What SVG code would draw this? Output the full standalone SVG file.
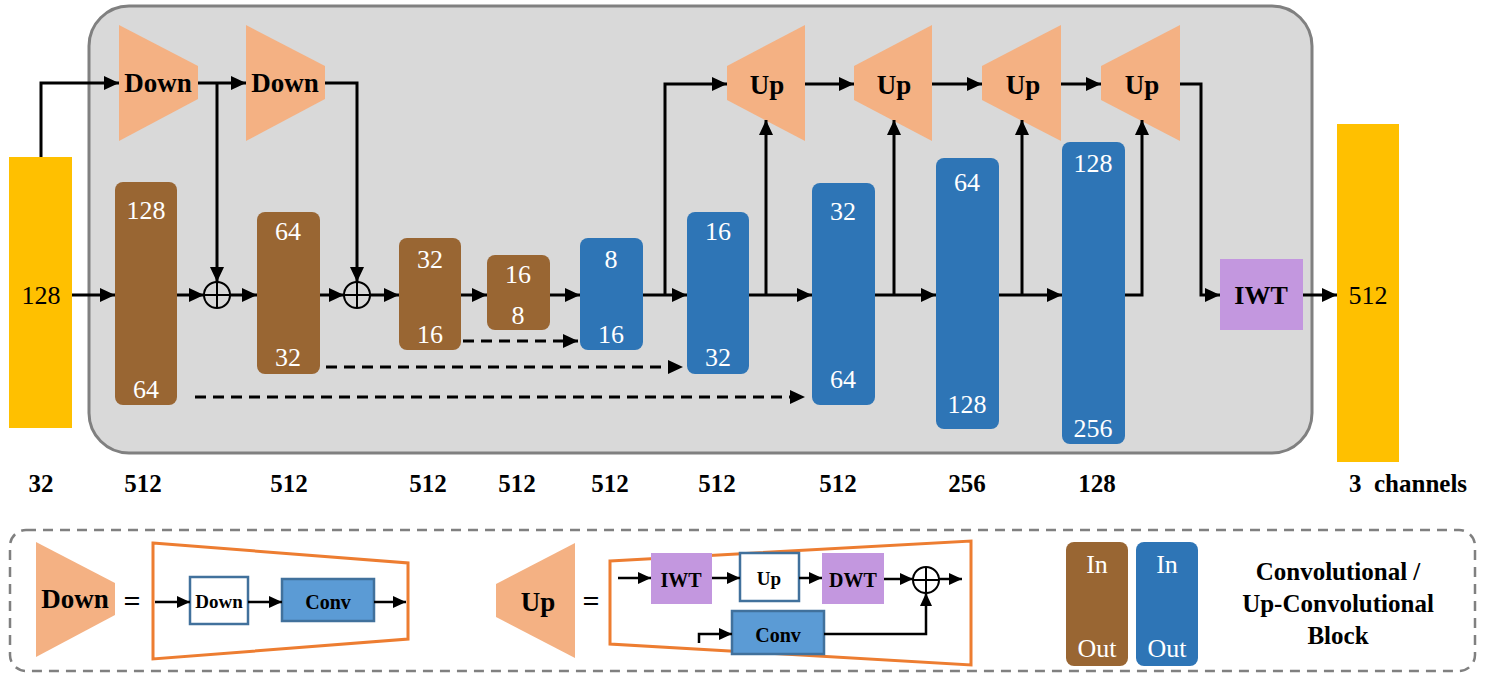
<svg xmlns="http://www.w3.org/2000/svg" width="1485" height="678" viewBox="0 0 1485 678" font-family="Liberation Serif, Times New Roman, DejaVu Serif, serif">
<defs>
<marker id="ah" markerUnits="userSpaceOnUse" markerWidth="15" markerHeight="14" refX="15" refY="7" orient="auto"><path d="M0,0 L15,7 L0,14 z" fill="#000"/></marker>
<marker id="ahs" markerUnits="userSpaceOnUse" markerWidth="13" markerHeight="12" refX="13" refY="6" orient="auto"><path d="M0,0 L13,6 L0,12 z" fill="#000"/></marker>
<style>
.w{fill:#fff;font-size:26px;text-anchor:middle}
.b{font-weight:bold;text-anchor:middle;fill:#000}
.brown{fill:#996633}
.blue{fill:#2e75b6}
.tri{fill:#f4b183}
.ln{stroke:#000;stroke-width:3;fill:none}
.lns{stroke:#000;stroke-width:2.5;fill:none}
.dash{stroke:#000;stroke-width:3;fill:none;stroke-dasharray:11 7}
.lav{fill:#c397df}
</style>
</defs>
<rect x="89" y="6" width="1223" height="447" rx="40" fill="#d9d9d9" stroke="#808080" stroke-width="3"/>

<g id="input"><rect x="9" y="157" width="63" height="271" fill="#ffc000"/><text x="41" y="304" font-size="26" text-anchor="middle">128</text></g>
<g id="output"><rect x="1337" y="124" width="62" height="338" fill="#ffc000"/><text x="1368" y="304" font-size="26" text-anchor="middle">512</text></g>

<g id="down1"><polygon class="tri" points="119,25 198,66 198,99 119,141"/><text class="b" x="158" y="92" font-size="27">Down</text></g>
<g id="down2"><polygon class="tri" points="246,25 325,66 325,99 246,141"/><text class="b" x="285" y="92" font-size="27">Down</text></g>
<g id="up1"><polygon class="tri" points="727,66 805,25 805,141 727,100"/><text class="b" x="767" y="94" font-size="27">Up</text></g>
<g id="up2"><polygon class="tri" points="854,66 932,25 932,141 854,100"/><text class="b" x="894" y="94" font-size="27">Up</text></g>
<g id="up3"><polygon class="tri" points="982,66 1061,25 1061,141 982,100"/><text class="b" x="1023" y="94" font-size="27">Up</text></g>
<g id="up4"><polygon class="tri" points="1101,66 1180,25 1180,141 1101,100"/><text class="b" x="1142" y="94" font-size="27">Up</text></g>

<g id="b1"><rect class="brown" x="115" y="182" width="62" height="223" rx="8"/><text class="w" x="146" y="219">128</text><text class="w" x="146" y="398">64</text></g>
<g id="b2"><rect class="brown" x="257" y="212" width="63" height="162" rx="8"/><text class="w" x="288" y="240">64</text><text class="w" x="288" y="366">32</text></g>
<g id="b3"><rect class="brown" x="399" y="238" width="62" height="112" rx="8"/><text class="w" x="430" y="268">32</text><text class="w" x="430" y="343">16</text></g>
<g id="b4"><rect class="brown" x="487" y="255" width="63" height="75" rx="8"/><text class="w" x="518" y="283">16</text><text class="w" x="518" y="324">8</text></g>
<g id="u1"><rect class="blue" x="580" y="238" width="63" height="112" rx="8"/><text class="w" x="611" y="268">8</text><text class="w" x="611" y="343">16</text></g>
<g id="u2"><rect class="blue" x="687" y="212" width="62" height="162" rx="8"/><text class="w" x="718" y="240">16</text><text class="w" x="718" y="366">32</text></g>
<g id="u3"><rect class="blue" x="812" y="183" width="63" height="222" rx="8"/><text class="w" x="843" y="220">32</text><text class="w" x="843" y="388">64</text></g>
<g id="u4"><rect class="blue" x="936" y="158" width="63" height="271" rx="8"/><text class="w" x="967" y="191">64</text><text class="w" x="967" y="413">128</text></g>
<g id="u5"><rect class="blue" x="1062" y="142" width="63" height="302" rx="8"/><text class="w" x="1093" y="172">128</text><text class="w" x="1093" y="437">256</text></g>

<g id="iwt"><rect class="lav" x="1220" y="259" width="83" height="71"/><text class="b" x="1261" y="304" font-size="26">IWT</text></g>

<g id="plus1"><circle cx="217" cy="295" r="13" fill="none" stroke="#000" stroke-width="2"/><path d="M204,295 H230 M217,282 V308" stroke="#000" stroke-width="2"/></g>
<g id="plus2"><circle cx="357" cy="295" r="13" fill="none" stroke="#000" stroke-width="2"/><path d="M344,295 H370 M357,282 V308" stroke="#000" stroke-width="2"/></g>

<g id="connectors">
<path class="ln" d="M41,157 V83 H119" marker-end="url(#ah)"/>
<path class="ln" d="M198,83 H246" marker-end="url(#ah)"/>
<path class="ln" d="M217,83 V282" marker-end="url(#ah)"/>
<path class="ln" d="M325,83 H357 V282" marker-end="url(#ah)"/>
<path class="ln" d="M72,295 H115" marker-end="url(#ah)"/>
<path class="ln" d="M177,295 H204" marker-end="url(#ah)"/>
<path class="ln" d="M230,295 H257" marker-end="url(#ah)"/>
<path class="ln" d="M320,295 H344" marker-end="url(#ah)"/>
<path class="ln" d="M370,295 H399" marker-end="url(#ah)"/>
<path class="ln" d="M461,295 H487" marker-end="url(#ah)"/>
<path class="ln" d="M550,295 H580" marker-end="url(#ah)"/>
<path class="ln" d="M643,295 H687" marker-end="url(#ah)"/>
<path class="ln" d="M665,295 V84 H727" marker-end="url(#ah)"/>
<path class="ln" d="M749,295 H812" marker-end="url(#ah)"/>
<path class="ln" d="M766,295 V120" marker-end="url(#ah)"/>
<path class="ln" d="M875,295 H936" marker-end="url(#ah)"/>
<path class="ln" d="M894,295 V120" marker-end="url(#ah)"/>
<path class="ln" d="M999,295 H1062" marker-end="url(#ah)"/>
<path class="ln" d="M1022,295 V120" marker-end="url(#ah)"/>
<path class="ln" d="M1125,295 H1142 V120" marker-end="url(#ah)"/>
<path class="ln" d="M805,84 H854" marker-end="url(#ah)"/>
<path class="ln" d="M932,84 H982" marker-end="url(#ah)"/>
<path class="ln" d="M1061,84 H1101" marker-end="url(#ah)"/>
<path class="ln" d="M1180,84 H1201 V295 H1220" marker-end="url(#ah)"/>
<path class="ln" d="M1303,295 H1337" marker-end="url(#ah)"/>
<path class="dash" d="M463,341 H578" marker-end="url(#ah)"/>
<path class="dash" d="M326,367 H683" marker-end="url(#ah)"/>
<path class="dash" d="M195,397 H805" marker-end="url(#ah)"/>
</g>

<g id="bottom-labels" font-size="25">
<text class="b" x="41" y="492">32</text>
<text class="b" x="143" y="492">512</text>
<text class="b" x="289" y="492">512</text>
<text class="b" x="428" y="492">512</text>
<text class="b" x="517" y="492">512</text>
<text class="b" x="610" y="492">512</text>
<text class="b" x="717" y="492">512</text>
<text class="b" x="838" y="492">512</text>
<text class="b" x="967" y="492">256</text>
<text class="b" x="1097" y="492">128</text>
<text class="b" x="1349" y="492" style="text-anchor:start" xml:space="preserve">3  channels</text>
</g>

<g id="legend">
<rect x="10" y="530" width="1465" height="141" rx="16" fill="none" stroke="#808080" stroke-width="2.5" stroke-dasharray="10 7"/>
<g id="leg-down">
<polygon class="tri" points="36,542 115,583 115,615 36,657"/>
<text class="b" x="75" y="608" font-size="27">Down</text>
<text class="b" x="132" y="611" font-size="30">=</text>
<polygon points="153,543 408,563 408,639 153,659" fill="none" stroke="#ed7d31" stroke-width="3"/>
<rect x="190" y="577" width="58" height="47" fill="#fff" stroke="#41719c" stroke-width="2.5"/>
<text class="b" x="219" y="608" font-size="19">Down</text>
<rect x="282" y="579" width="92" height="42" fill="#5b9bd5" stroke="#41719c" stroke-width="2.5"/>
<text class="b" x="328" y="609" font-size="20">Conv</text>
<path class="lns" d="M155,602 H190" marker-end="url(#ahs)"/>
<path class="lns" d="M248,602 H282" marker-end="url(#ahs)"/>
<path class="lns" d="M374,602 H406" marker-end="url(#ahs)"/>
</g>
<g id="leg-up">
<polygon class="tri" points="496,584 575,543 575,658 496,617"/>
<text class="b" x="538" y="611" font-size="27">Up</text>
<text class="b" x="591" y="611" font-size="30">=</text>
<polygon points="610,561 971,541 971,665 610,644" fill="none" stroke="#ed7d31" stroke-width="3"/>
<rect class="lav" x="651" y="553" width="61" height="51"/>
<text class="b" x="681" y="587" font-size="20">IWT</text>
<rect x="740" y="553" width="59" height="48" fill="#fff" stroke="#41719c" stroke-width="2.5"/>
<text class="b" x="769" y="585" font-size="19">Up</text>
<rect class="lav" x="822" y="553" width="62" height="51"/>
<text class="b" x="853" y="587" font-size="20">DWT</text>
<rect x="732" y="611" width="92" height="43" fill="#5b9bd5" stroke="#41719c" stroke-width="2.5"/>
<text class="b" x="778" y="642" font-size="20">Conv</text>
<circle cx="926" cy="580" r="13" fill="none" stroke="#000" stroke-width="2"/>
<path d="M913,580 H939 M926,567 V593" stroke="#000" stroke-width="2"/>
<path class="lns" d="M618,578 H651" marker-end="url(#ahs)"/>
<path class="lns" d="M712,578 H740" marker-end="url(#ahs)"/>
<path class="lns" d="M799,578 H822" marker-end="url(#ahs)"/>
<path class="lns" d="M884,579 H913" marker-end="url(#ahs)"/>
<path class="lns" d="M939,579 H962" marker-end="url(#ahs)"/>
<path class="lns" d="M824,634 H926 V593" marker-end="url(#ahs)"/>
<path class="lns" d="M699,643 V634 H732" marker-end="url(#ahs)"/>
</g>
<g id="leg-blocks">
<rect class="brown" x="1066" y="542" width="62" height="124" rx="8"/>
<text class="w" x="1097" y="573">In</text><text class="w" x="1097" y="657">Out</text>
<rect class="blue" x="1136" y="542" width="62" height="124" rx="8"/>
<text class="w" x="1167" y="573">In</text><text class="w" x="1167" y="657">Out</text>
<text class="b" x="1338" y="580" font-size="25">Convolutional /</text>
<text class="b" x="1338" y="612" font-size="25">Up-Convolutional</text>
<text class="b" x="1338" y="644" font-size="25">Block</text>
</g>
</g>
</svg>
